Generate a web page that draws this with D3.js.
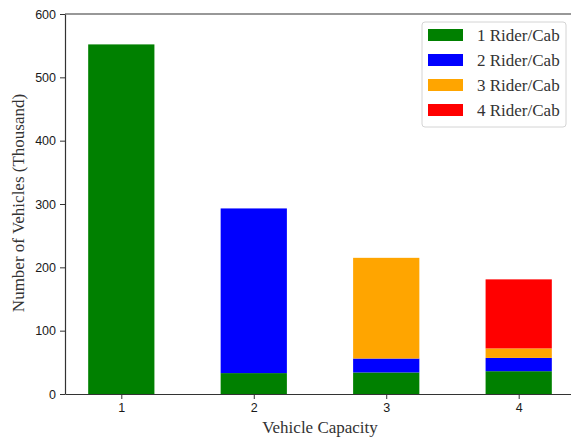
<!DOCTYPE html>
<html>
<head>
<meta charset="utf-8">
<script src="https://cdn.jsdelivr.net/npm/d3@7"></script>
<style>
  html, body { margin: 0; padding: 0; background: #fff; overflow: hidden; }
  svg { display: block; }
</style>
</head>
<body>
<svg id="chart" width="571" height="443"></svg>
<script>
// ---- data ----
const categories = ["1", "2", "3", "4"];
const seriesNames = ["1 Rider/Cab", "2 Rider/Cab", "3 Rider/Cab", "4 Rider/Cab"];
const seriesColors = ["#008000", "#0000ff", "#ffa500", "#ff0000"];
const oneRider   = [552, 33, 34, 36];
const twoRider   = [0, 260, 22, 21];
const threeRider = [0, 0, 159, 15];
const fourRider  = [0, 0, 0, 109];
const yTicks = [0, 100, 200, 300, 400, 500, 600];
const xLabel = "Vehicle Capacity";
const yLabel = "Number of Vehicles (Thousand)";

(function () {
const seriesValues = [oneRider, twoRider, threeRider, fourRider];
const table = categories.map((c, i) => {
  const row = { cat: c };
  seriesNames.forEach((s, j) => row[s] = seriesValues[j][i]);
  return row;
});

// ---- layout ----
const svg = d3.select("#chart");
const mL = 65, mR = 575, mT = 14, mB = 394;

// x: numeric categories with matplotlib-like margins
const x = d3.scaleLinear().domain([0.575, 4.425]).range([mL, mR]);
const barW = x(1.5) - x(1.0);
const y = d3.scaleLinear().domain([0, 600]).range([mB, mT]);

const stack = d3.stack().keys(seriesNames)(table);

svg.append("g").selectAll("g")
  .data(stack).join("g")
  .attr("fill", (d, i) => seriesColors[i])
  .selectAll("rect")
  .data(d => d).join("rect")
  .attr("x", d => x(+d.data.cat) - barW / 2)
  .attr("width", barW)
  .attr("y", d => y(d[1]))
  .attr("height", d => Math.max(0, y(d[0]) - y(d[1])));

// axes
const axisColor = "#333";
const xAxis = svg.append("g")
  .attr("transform", `translate(0,${mB})`)
  .call(d3.axisBottom(x).tickValues(categories.map(Number)).tickFormat(d3.format("d")).tickSize(5).tickPadding(4).tickSizeOuter(0));
const yAxis = svg.append("g")
  .attr("transform", `translate(${mL},0)`)
  .call(d3.axisLeft(y).tickValues(yTicks).tickSize(5).tickPadding(4).tickSizeOuter(0));
[xAxis, yAxis].forEach(g => {
  g.select(".domain").attr("stroke", axisColor).attr("stroke-width", 1.2);
  g.selectAll(".tick line").attr("stroke", axisColor).attr("stroke-width", 1);
  g.selectAll(".tick text").attr("fill", "#1a1a1a")
    .style("font-family", "'Liberation Sans', Arial, sans-serif").style("font-size", "12.5px");
});
// top / right spines
svg.append("line").attr("x1", mL).attr("x2", mR).attr("y1", mT).attr("y2", mT)
  .attr("stroke", axisColor).attr("stroke-width", 1.2);
svg.append("line").attr("x1", mR).attr("x2", mR).attr("y1", mT).attr("y2", mB)
  .attr("stroke", axisColor).attr("stroke-width", 1.2);

// axis labels
const serif = "'Liberation Serif', 'Times New Roman', serif";
svg.append("text").text(xLabel)
  .attr("x", (mL + mR) / 2).attr("y", 433)
  .attr("text-anchor", "middle").attr("fill", "#333")
  .style("font-family", serif).style("font-size", "17px");
svg.append("text").text(yLabel)
  .attr("transform", `translate(24,203) rotate(-90)`)
  .attr("text-anchor", "middle").attr("fill", "#333")
  .style("font-family", serif).style("font-size", "17px");

// legend
const lg = svg.append("g");
lg.append("rect").attr("x", 422).attr("y", 22).attr("width", 144).attr("height", 105)
  .attr("rx", 3).attr("fill", "#fff").attr("stroke", "#d4d4d4").attr("stroke-width", 1);
seriesNames.forEach((s, i) => {
  const cy = 35 + i * 25;
  lg.append("rect").attr("x", 428).attr("y", cy - 6).attr("width", 35).attr("height", 12)
    .attr("fill", seriesColors[i]);
  lg.append("text").text(s).attr("x", 477).attr("y", cy + 5.5)
    .attr("fill", "#333").style("font-family", serif).style("font-size", "17px");
});
})();
</script>
</body>
</html>
